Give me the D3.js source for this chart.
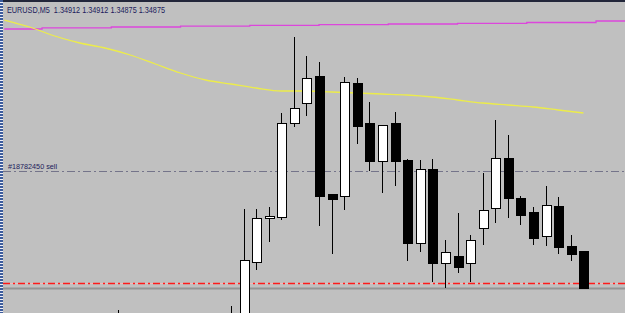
<!DOCTYPE html>
<html>
<head>
<meta charset="utf-8">
<script src="https://cdn.jsdelivr.net/npm/d3@7/dist/d3.min.js"></script>
<style>
  html, body { margin: 0; padding: 0; background: #c0c0c0; overflow: hidden; }
  svg { display: block; }
</style>
</head>
<body>
<div class="d3-wrapper"></div>
<script>
const WIDTH = 625, HEIGHT = 313;

// chart header
const SYMBOL = 'EURUSD,M5';
const HEADER_OHLC = ['1.34912', '1.34912', '1.34875', '1.34875'];

// visible bars (bar number counted from the left of the window)
const BAR = [0, 9, 10, 11, 12, 13, 14, 15, 16, 17, 18, 19, 20, 21, 22, 23, 24, 25, 26, 27, 28, 29, 30, 31, 32, 33, 34, 35, 36, 37];
const OPEN = [1.34838, 1.34840, 1.34842, 1.34901, 1.34945, 1.34946, 1.35040, 1.35060, 1.35087, 1.34969, 1.34967, 1.35080, 1.35040, 1.35002, 1.35040, 1.35003, 1.34920, 1.34994, 1.34900, 1.34907, 1.34900, 1.34935, 1.34955, 1.35005, 1.34965, 1.34951, 1.34927, 1.34957, 1.34917, 1.34912];
const HIGH = [1.34853, 1.34857, 1.34954, 1.34954, 1.34956, 1.35050, 1.35126, 1.35107, 1.35101, 1.34969, 1.35086, 1.35085, 1.35061, 1.35038, 1.35051, 1.35004, 1.35003, 1.35004, 1.34923, 1.34950, 1.34928, 1.34990, 1.35043, 1.35028, 1.34967, 1.34956, 1.34977, 1.34966, 1.34928, 1.34912];
const LOW = [1.34830, 1.34832, 1.34836, 1.34893, 1.34921, 1.34943, 1.35036, 1.35047, 1.34937, 1.34909, 1.34953, 1.35019, 1.34992, 1.34970, 1.34977, 1.34902, 1.34911, 1.34881, 1.34875, 1.34890, 1.34881, 1.34918, 1.34940, 1.34945, 1.34938, 1.34918, 1.34917, 1.34909, 1.34902, 1.34875];
const CLOSE = [1.34846, 1.34845, 1.34903, 1.34945, 1.34947, 1.35040, 1.35055, 1.35085, 1.34967, 1.34964, 1.35081, 1.35037, 1.35002, 1.35038, 1.35002, 1.34920, 1.34994, 1.34900, 1.34911, 1.34896, 1.34923, 1.34953, 1.35005, 1.34965, 1.34948, 1.34925, 1.34958, 1.34916, 1.34909, 1.34875];

// yellow moving average, read every second bar
const MA_FAST_BAR = [-9, -7, -5, -3, -1, 1, 3, 5, 7, 9, 11, 13, 15, 17, 19, 21, 23, 25, 27, 29, 31, 33, 35, 37];
const MA_FAST = [1.35143, 1.35136, 1.35127, 1.35120, 1.35115, 1.35108, 1.35099, 1.35090, 1.35083, 1.35079, 1.35075, 1.35072, 1.35072, 1.35071, 1.35070, 1.35069, 1.35068, 1.35066, 1.35063, 1.35060, 1.35058, 1.35056, 1.35053, 1.35050];

// magenta stepped average (value changes at these bars)
const MA_SLOW_BAR = [-9, -6, -0.5, 5, 10.5, 16, 21.5, 27, 32.5, 38, 40.5];
const MA_SLOW = [1.351340, 1.351352, 1.351360, 1.351368, 1.351377, 1.351384, 1.351390, 1.351397, 1.351405, 1.351420, 1.351420];

// horizontal levels
const ORDER_PRICE = 1.34992, ORDER_LABEL = '#18782450 sell';
const TP_PRICE = 1.34880;
const BID_PRICE = 1.34875;

const FIRST_X = 117.6, BAR_STEP = 12.59;
const xScale = d3.scaleLinear().domain([0, 37]).range([FIRST_X, FIRST_X + 37 * BAR_STEP]);
const yScale = d3.scaleLinear().domain([1.34850, 1.35163]).range([HEIGHT, 0]);

const bars = BAR.map((b, i) => ({ bar: b, o: OPEN[i], h: HIGH[i], l: LOW[i], c: CLOSE[i] }));

const svg = d3.select('.d3-wrapper').append('svg')
  .attr('width', WIDTH)
  .attr('height', HEIGHT);

svg.append('rect')
  .attr('width', WIDTH).attr('height', HEIGHT)
  .attr('fill', '#c0c0c0');

svg.append('clipPath').attr('id', 'plot-clip')
  .append('rect').attr('x', 3).attr('y', 3).attr('width', WIDTH - 3).attr('height', HEIGHT - 3);

const plot = svg.append('g').attr('clip-path', 'url(#plot-clip)');

const hLine = (price) => plot.append('line')
  .attr('x1', 3).attr('x2', WIDTH)
  .attr('y1', Math.round(yScale(price)) + 0.5)
  .attr('y2', Math.round(yScale(price)) + 0.5);

// level lines
hLine(ORDER_PRICE)
  .attr('stroke', '#74748a').attr('stroke-width', 1)
  .attr('stroke-dasharray', '8,3,2,3');

hLine(BID_PRICE)
  .attr('stroke', '#949494').attr('stroke-width', 2);

hLine(TP_PRICE)
  .attr('stroke', '#f2b8b8').attr('stroke-width', 1);
hLine(TP_PRICE)
  .attr('stroke', '#ff1a1a').attr('stroke-width', 1.5)
  .attr('stroke-dasharray', '7,3,2,3');

// moving averages
plot.append('path')
  .datum(MA_SLOW_BAR.map((b, i) => [b, MA_SLOW[i]]))
  .attr('fill', 'none')
  .attr('stroke', '#dc46dc').attr('stroke-width', 1.3)
  .attr('d', d3.line().x(d => xScale(d[0])).y(d => yScale(d[1])).curve(d3.curveStepAfter));

plot.append('path')
  .datum(MA_FAST_BAR.map((b, i) => [b, MA_FAST[i]]))
  .attr('fill', 'none')
  .attr('stroke', '#ecec4a').attr('stroke-width', 1.3)
  .attr('d', d3.line().x(d => xScale(d[0])).y(d => yScale(d[1])).curve(d3.curveMonotoneX));

// candles
const candle = plot.selectAll('.candle')
  .data(bars)
  .enter().append('g')
  .attr('class', 'candle')
  .attr('shape-rendering', 'crispEdges');

candle.append('line')
  .attr('x1', d => Math.round(xScale(d.bar)) + 0.5)
  .attr('x2', d => Math.round(xScale(d.bar)) + 0.5)
  .attr('y1', d => yScale(d.h))
  .attr('y2', d => yScale(d.l))
  .attr('stroke', '#000');

candle.append('rect')
  .attr('x', d => Math.round(xScale(d.bar)) - 4 + 0.5)
  .attr('y', d => yScale(Math.max(d.o, d.c)))
  .attr('width', 9)
  .attr('height', d => Math.max(1, Math.abs(yScale(d.o) - yScale(d.c))))
  .attr('fill', d => d.c >= d.o ? '#fff' : '#000')
  .attr('stroke', '#000');

// header text
svg.append('text')
  .attr('x', 7).attr('y', 12.5)
  .style('font-family', '"Liberation Sans", Arial, sans-serif')
  .style('font-size', '8.5px')
  .attr('fill', '#1c1c5c')
  .attr('xml:space', 'preserve')
  .attr('textLength', 158)
  .attr('lengthAdjust', 'spacingAndGlyphs')
  .text(SYMBOL + '  ' + HEADER_OHLC.join(' '));

svg.append('text')
  .attr('x', 8).attr('y', yScale(ORDER_PRICE) - 2.5)
  .style('font-family', '"Liberation Sans", Arial, sans-serif')
  .style('font-size', '7.5px')
  .attr('fill', '#1c1c5c')
  .attr('textLength', 49)
  .attr('lengthAdjust', 'spacingAndGlyphs')
  .text(ORDER_LABEL);

// window frame
svg.append('rect')
  .attr('x', 0).attr('y', 0).attr('width', WIDTH).attr('height', 2)
  .attr('fill', '#22263a');
svg.append('rect')
  .attr('x', 0).attr('y', 0).attr('width', 3).attr('height', HEIGHT)
  .attr('fill', '#f0f0f8');
svg.append('line')
  .attr('x1', 1.5).attr('x2', 1.5).attr('y1', 0).attr('y2', HEIGHT)
  .attr('stroke', '#3c5c9c').attr('stroke-width', 3)
  .attr('stroke-dasharray', '2,1');
</script>
</body>
</html>
